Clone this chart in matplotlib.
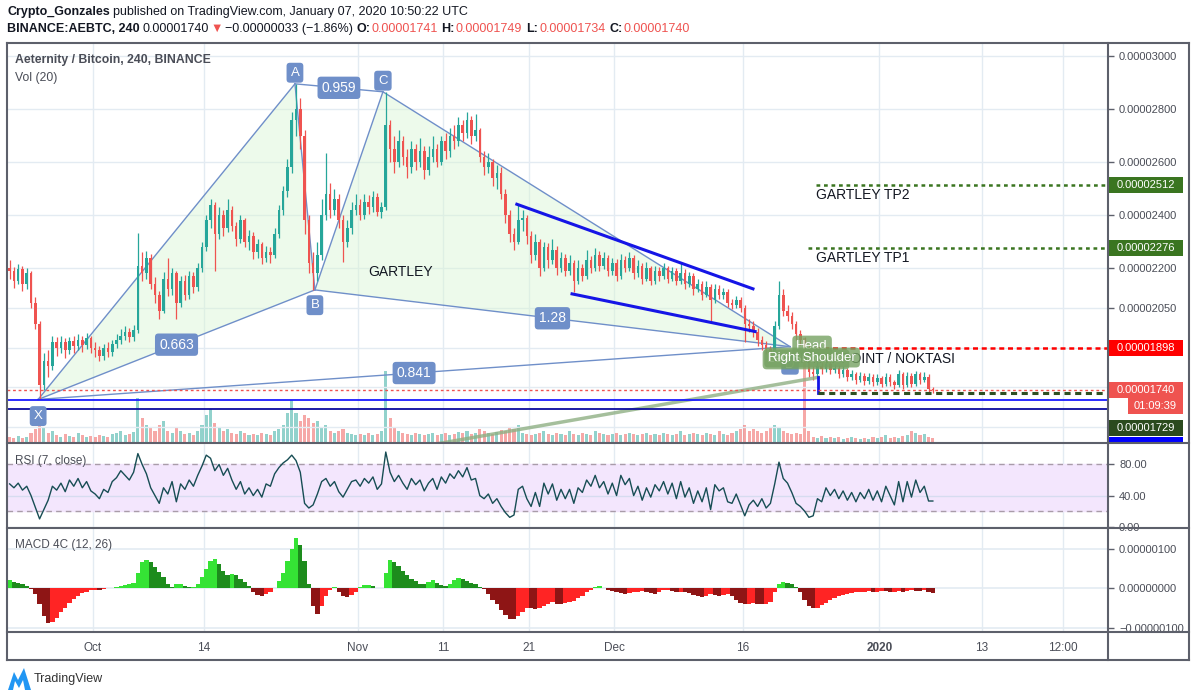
import matplotlib
matplotlib.use("Agg")
import matplotlib.pyplot as plt
import matplotlib.dates as mdates
import matplotlib.transforms as mtrans
from matplotlib.lines import Line2D
from matplotlib.patches import Rectangle, Polygon
import numpy as np
import pandas as pd

plt.rcParams['font.family'] = ['Liberation Sans', 'DejaVu Sans']

# ---- price data, satoshi (1e-8 BTC), 12h candles starting 2019-09-21 ----
first_open = 2200
closes = [
    2190, 2150, 2195, 2140, 2180, 2070, 1990, 1760, 1850, 1830,
    1920, 1900, 1920, 1890, 1925, 1905, 1930, 1910, 1935, 1900,
    1890, 1870, 1900, 1885, 1915, 1930, 1945, 1960, 1940, 1965,
    2210, 2180, 2240, 2140, 2100, 2040, 2160, 2120, 2180, 2070,
    2150, 2100, 2170, 2130, 2200, 2280, 2380, 2440, 2330, 2400,
    2350, 2420, 2360, 2310, 2380, 2300, 2320, 2260, 2290, 2240,
    2260, 2250, 2330, 2420, 2490, 2580, 2760, 2800, 2700, 2380,
    2220, 2180, 2250, 2400, 2480, 2420, 2460, 2380, 2300, 2350,
    2420, 2440, 2400, 2450, 2430, 2470, 2410, 2430, 2740, 2650,
    2600, 2680, 2620, 2580, 2650, 2600, 2640, 2570, 2620, 2650,
    2600, 2680, 2640, 2700, 2680, 2740, 2710, 2760, 2700, 2720,
    2620, 2580, 2600, 2540, 2560, 2480, 2400, 2330, 2300, 2380,
    2390, 2320, 2250, 2300, 2200, 2280, 2230, 2270, 2200, 2240,
    2190, 2220, 2150, 2200, 2170, 2230, 2200, 2250, 2210, 2240,
    2190, 2220, 2170, 2230, 2200, 2240, 2180, 2210, 2160, 2200,
    2150, 2190, 2170, 2200, 2160, 2190, 2150, 2180, 2140, 2170,
    2120, 2140, 2100, 2130, 2080, 2120, 2100, 2110, 2070, 2060,
    2080, 2050, 1990, 1980, 1960, 1930, 1910, 1895, 1880, 1980,
    2100, 2040, 2020, 1990, 1950, 1930, 1900, 1810, 1800, 1830,
    1820, 1840, 1815, 1825, 1800, 1815, 1790, 1800, 1780, 1795,
    1775, 1790, 1770, 1785, 1765, 1790, 1770, 1760, 1800, 1760,
    1795, 1765, 1800, 1780, 1790, 1745, 1740]
highs = [
    2230, 2205, 2215, 2210, 2200, 2190, 2090, 2000, 1880, 1890,
    1946, 1940, 1945, 1935, 1940, 1945, 1950, 1945, 1955, 1945,
    1920, 1905, 1915, 1920, 1930, 1950, 1970, 1980, 1975, 1985,
    2332, 2260, 2265, 2255, 2165, 2115, 2185, 2240, 2200, 2190,
    2170, 2175, 2190, 2185, 2220, 2300, 2400, 2460, 2450, 2430,
    2420, 2460, 2435, 2375, 2400, 2390, 2345, 2335, 2310, 2300,
    2285, 2280, 2350, 2440, 2510, 2610, 2790, 2895, 2840, 2720,
    2400, 2260, 2300, 2460, 2636, 2520, 2500, 2480, 2400, 2380,
    2450, 2480, 2460, 2480, 2475, 2490, 2485, 2450, 2865, 2760,
    2700, 2720, 2700, 2650, 2680, 2670, 2690, 2660, 2660, 2700,
    2670, 2700, 2710, 2730, 2740, 2770, 2760, 2790, 2775, 2780,
    2730, 2640, 2636, 2610, 2590, 2580, 2500, 2420, 2350, 2440,
    2420, 2400, 2340, 2330, 2310, 2300, 2295, 2310, 2285, 2260,
    2255, 2250, 2230, 2230, 2215, 2270, 2245, 2275, 2265, 2260,
    2250, 2240, 2235, 2255, 2245, 2260, 2250, 2230, 2220, 2225,
    2210, 2210, 2205, 2220, 2210, 2205, 2200, 2225, 2195, 2185,
    2180, 2160, 2150, 2150, 2140, 2140, 2135, 2125, 2120, 2085,
    2095, 2090, 2060, 2010, 2000, 1975, 1945, 1925, 1905, 2000,
    2150, 2120, 2060, 2035, 2000, 1965, 1940, 1910, 1830, 1850,
    1845, 1855, 1850, 1840, 1835, 1830, 1825, 1815, 1810, 1810,
    1805, 1805, 1800, 1800, 1795, 1805, 1800, 1780, 1815, 1810,
    1810, 1805, 1812, 1810, 1810, 1800, 1750]
lows = [
    2160, 2125, 2140, 2115, 2120, 2050, 1970, 1705, 1740, 1790,
    1815, 1870, 1880, 1860, 1875, 1880, 1890, 1885, 1895, 1880,
    1865, 1850, 1855, 1865, 1870, 1900, 1915, 1930, 1920, 1925,
    1955, 2150, 2160, 2120, 2070, 2010, 2030, 2095, 2100, 2010,
    2055, 2080, 2085, 2105, 2115, 2185, 2265, 2350, 2190, 2310,
    2320, 2335, 2340, 2285, 2295, 2280, 2270, 2235, 2240, 2215,
    2225, 2220, 2240, 2315, 2400, 2470, 2560, 2700, 2650, 2330,
    2180, 2118, 2150, 2230, 2380, 2390, 2400, 2350, 2223, 2280,
    2330, 2400, 2380, 2385, 2405, 2410, 2395, 2390, 2420, 2600,
    2560, 2580, 2590, 2540, 2560, 2570, 2580, 2535, 2550, 2600,
    2580, 2590, 2610, 2620, 2650, 2660, 2680, 2690, 2670, 2680,
    2600, 2550, 2560, 2510, 2500, 2460, 2370, 2300, 2270, 2290,
    2340, 2290, 2220, 2230, 2170, 2190, 2200, 2215, 2175, 2185,
    2170, 2175, 2110, 2140, 2150, 2160, 2180, 2190, 2190, 2195,
    2170, 2175, 2150, 2160, 2185, 2190, 2160, 2165, 2140, 2150,
    2135, 2140, 2150, 2160, 2145, 2150, 2135, 2140, 2120, 2130,
    2100, 2110, 2080, 2090, 2000, 2070, 2085, 2085, 2055, 2045,
    2050, 2035, 1920, 1960, 1940, 1905, 1890, 1875, 1860, 1870,
    1970, 2020, 2000, 1970, 1930, 1910, 1880, 1790, 1780, 1790,
    1800, 1810, 1800, 1805, 1785, 1790, 1775, 1780, 1765, 1770,
    1760, 1765, 1755, 1760, 1750, 1755, 1755, 1745, 1750, 1745,
    1750, 1750, 1755, 1765, 1770, 1725, 1730]
volume = [
    6, 5, 7, 5, 6, 10, 14, 25, 15, 10,
    12, 8, 6, 9, 7, 6, 10, 8, 6, 7,
    6, 8, 7, 6, 9, 10, 12, 8, 9, 11,
    45, 25, 18, 15, 12, 18, 22, 12, 10, 16,
    12, 9, 10, 8, 12, 18, 28, 34, 20, 15,
    12, 14, 10, 9, 12, 10, 8, 9, 8, 10,
    9, 8, 12, 14, 18, 30, 43, 30, 22, 28,
    25, 20, 22, 15, 18, 12, 10, 12, 14, 10,
    9, 8, 9, 8, 10, 8, 9, 12, 72, 25,
    15, 12, 10, 9, 8, 10, 9, 8, 9, 10,
    8, 9, 10, 8, 9, 11, 10, 12, 9, 10,
    14, 12, 10, 9, 11, 13, 12, 15, 14, 18,
    10, 9, 8, 9, 10, 12, 9, 8, 10, 9,
    8, 12, 9, 8, 10, 9, 8, 12, 10, 9,
    8, 9, 10, 8, 9, 10, 9, 8, 9, 10,
    8, 9, 8, 10, 9, 8, 9, 12, 8, 9,
    10, 9, 8, 10, 9, 8, 12, 9, 8, 10,
    12, 14, 18, 12, 14, 12, 10, 12, 16, 18,
    15, 12, 10, 9, 10, 9, 105, 12, 6, 5,
    7, 5, 6, 5, 6, 4, 5, 6, 5, 4,
    5, 4, 6, 5, 6, 8, 5, 6, 5, 7,
    8, 12, 10, 8, 9, 6, 5]
rsi = [
    55, 50, 56, 47, 52, 40, 25, 10, 22, 34,
    52, 47, 56, 45, 60, 52, 62, 50, 58, 46,
    42, 36, 48, 44, 58, 63, 72, 66, 60, 70,
    94, 80, 68, 50, 40, 30, 50, 42, 58, 32,
    55, 48, 60, 52, 66, 78, 92, 88, 72, 80,
    66, 75, 60, 48, 58, 42, 50, 40, 48, 38,
    55, 52, 68, 76, 82, 86, 92, 85, 70, 30,
    24, 28, 42, 58, 62, 52, 58, 45, 38, 48,
    58, 60, 52, 62, 56, 64, 48, 55, 96, 70,
    58, 66, 56, 48, 62, 54, 60, 46, 56, 62,
    48, 64, 56, 68, 62, 72, 64, 76, 60, 62,
    40, 36, 42, 30, 36, 26, 18, 12, 15, 48,
    52, 36, 26, 44, 26, 56, 42, 55, 34, 48,
    36, 48, 30, 50, 44, 60, 52, 66, 50, 58,
    42, 56, 40, 66, 54, 62, 40, 52, 34, 50,
    38, 54, 46, 58, 42, 56, 36, 58, 38, 50,
    30, 46, 32, 50, 22, 54, 46, 50, 32, 30,
    42, 28, 14, 28, 34, 26, 36, 24, 30, 55,
    83, 62, 56, 44, 30, 26, 20, 12, 14, 36,
    32, 50, 40, 48, 36, 46, 34, 44, 32, 44,
    36, 48, 34, 46, 32, 52, 40, 28, 58, 32,
    58, 38, 60, 44, 52, 33, 33]
macd_hist = [
    20, 17, 14, 10, 5, -2, -14, -40, -70, -88,
    -85, -75, -60, -48, -36, -26, -18, -12, -8, -5,
    -3, -4, -2, 0, 2, 4, 6, 8, 10, 14,
    40, 66, 72, 66, 55, 42, 28, 12, 4, 10,
    12, 6, 3, 4, 12, 30, 50, 68, 73, 62,
    45, 35, 37, 33, 24, 16, 5, -10, -16, -18,
    -14, -9, 0, 18, 40, 70, 100, 127, 110, 70,
    10, -45, -65, -45, -20, -4, 3, -8, -18, -22,
    -16, -8, 4, 8, 8, 6, 2, 0, 40, 72,
    66, 56, 44, 33, 25, 18, 12, 10, 15, 20,
    14, 8, 6, 10, 20, 27, 24, 18, 14, 10,
    4, -2, -14, -28, -40, -55, -68, -76, -78, -70,
    -58, -48, -50, -52, -50, -44, -38, -35, -38, -40,
    -36, -34, -32, -25, -20, -10, -4, 3, 5, 2,
    -3, -6, -9, -11, -13, -12, -10, -8, -7, -9,
    -12, -14, -10, -5, -4, -7, -9, -8, -9, -12,
    -16, -20, -22, -18, -14, -16, -18, -16, -14, -20,
    -28, -36, -40, -38, -36, -38, -40, -38, -34, -10,
    12, 16, 14, 10, 4, -8, -28, -44, -50, -48,
    -42, -36, -30, -24, -20, -16, -14, -12, -10, -9,
    -8, -7, -9, -8, -6, -7, -9, -8, -6, -8,
    -7, -5, -6, -7, -5, -8, -12]

# ---- drawings on the chart ----
pattern_names = ["X", "A", "B", "C", "D"]
pattern_times = ["2019-09-24 14:00", "2019-10-24 15:00", "2019-10-26 23:00",
                 "2019-11-03 22:00", "2019-12-21 13:00"]
pattern_prices = [1705, 2895, 2118, 2865, 1904]
ratio_legs = [("X", "B"), ("A", "C"), ("X", "D"), ("B", "D")]
ratio_text = ["0.663", "0.959", "0.841", "1.28"]

chan_up_t = ["2019-11-19 14:00", "2019-12-17 05:00"]
chan_up_p = [2441, 2122]
chan_lo_t = ["2019-11-26 01:00", "2019-12-17 11:00"]
chan_lo_p = [2103, 1961]
trend_t = ["2019-11-09 10:00", "2019-12-24 19:00"]
trend_p = [1533, 1788]

tp2, tp1, entry, stop = 2512, 2276, 1898, 1729
last_price = 1740
blue_levels = [1702, 1668]

hs_text = ["Left Shoulder", "Head", "Right Shoulder"]
hs_times = ["2019-12-23 10:00", "2019-12-24 03:00", "2019-12-24 03:00"]
hs_prices = [1856, 1908, 1863]

price_ticks = [3000, 2800, 2600, 2400, 2200, 2050]
price_grid = [3000, 2800, 2600, 2400, 2200, 2050, 1900, 1750, 1600]
time_ticks = ["2019-10-01", "2019-10-14", "2019-11-01", "2019-11-11", "2019-11-21",
              "2019-12-01", "2019-12-16", "2020-01-01", "2020-01-13", "2020-01-22 12:00"]
time_labels = ["Oct", "14", "Nov", "11", "21", "Dec", "16", "2020", "13", "12:00"]


def dn(s):
    return mdates.date2num(pd.Timestamp(s).to_pydatetime())


W, H = 1196, 697
fig = plt.figure(figsize=(W / 100, H / 100), dpi=100)
ident = mtrans.IdentityTransform()


def rect(l, t, r, b):
    return [l / W, 1 - b / H, (r - l) / W, (b - t) / H]


L, R = 7, 1108
axv = fig.add_axes(rect(L, 43, R, 443))
ax = fig.add_axes(rect(L, 43, R, 443))
axr = fig.add_axes(rect(L, 443, R, 528))
axm = fig.add_axes(rect(L, 528, R, 632))
axv.set_zorder(0)
ax.set_zorder(1)
ax.patch.set_visible(False)

oct1 = dn("2019-10-01")
xlim = (oct1 - 86 / 8.548, oct1 + 1015 / 8.548)
for a in (axv, ax, axr, axm):
    a.set_xlim(*xlim)
    for s in a.spines.values():
        s.set_visible(False)
    a.tick_params(axis='x', length=0, labelbottom=False)
axv.set_yticks([])
axv.set_ylim(0, 400)
ax.set_ylim(1540.7, 3049)
axr.set_ylim(-1.7, 107.6)
axm.set_ylim(-109.5, 152)

times = pd.date_range("2019-09-21 06:00", periods=len(closes), freq="12h")
x = mdates.date2num(times.to_pydatetime())
c = np.array(closes, float)
o = np.array([first_open] + closes[:-1], float)
up = c >= o
ccol = np.where(up, "#26a69a", "#ef5350")

grid_c = "#e3ebf2"
tick_x = [dn(t) for t in time_ticks]
for a in (axv, axr, axm):
    for t in tick_x:
        a.axvline(t, color=grid_c, lw=1, zorder=0)
for p in price_grid:
    ax.axhline(p, color=grid_c, lw=1, zorder=0)

# volume
axv.bar(x, volume, width=0.36, color=ccol, alpha=0.5, lw=0, zorder=2)

# gartley pattern
pt = {n: (dn(t), p) for n, t, p in zip(pattern_names, pattern_times, pattern_prices)}
pc = "#6f8fc9"
for tri in (("X", "A", "B"), ("B", "C", "D")):
    ax.add_patch(Polygon([pt[n] for n in tri], closed=True, fc="#d9f5d3", alpha=0.45,
                         ec="none", zorder=1))
for a_, b_ in [("X", "A"), ("A", "B"), ("B", "C"), ("C", "D")] + ratio_legs:
    ax.plot([pt[a_][0], pt[b_][0]], [pt[a_][1], pt[b_][1]], color=pc, lw=1, zorder=2)

# candles
ax.vlines(x, lows, highs, colors=ccol, lw=0.9, zorder=3)
body = np.maximum(np.abs(c - o), 4)
ax.bar(x, body, bottom=np.minimum(o, c), width=0.3, color=ccol, lw=0, zorder=3)

boxkw = dict(boxstyle="round,pad=0.3,rounding_size=0.25", fc=pc, ec="none")
offs = {"X": -12, "A": 8, "B": -11, "C": 8, "D": -13}
for n in pattern_names:
    ax.annotate(n, pt[n], xytext=(0, offs[n]), textcoords="offset points", ha="center",
                va="center", color="white", fontsize=9.5, bbox=boxkw, zorder=6)
for (a_, b_), s in zip(ratio_legs, ratio_text):
    mx = (pt[a_][0] + pt[b_][0]) / 2
    my = (pt[a_][1] + pt[b_][1]) / 2
    ax.text(mx, my, s, ha="center", va="center", color="white", fontsize=10,
            bbox=boxkw, zorder=6)

# channel and lines
ax.plot([dn(t) for t in chan_up_t], chan_up_p, color="#1515e6", lw=2.2, zorder=4)
ax.plot([dn(t) for t in chan_lo_t], chan_lo_p, color="#1515e6", lw=2.2, zorder=4)
ax.plot([dn(t) for t in trend_t], trend_p, color="#8fb084", lw=2.5, alpha=0.8, zorder=4)
ax.plot([dn(trend_t[1])] * 2, [trend_p[1], stop], color="#1515e6", lw=2, zorder=4)

ax.plot([dn("2019-12-24 14:00"), xlim[1]], [tp2] * 2, color="#3a7520", lw=1.8,
        ls=(0, (1.5, 1.5)), zorder=4)
ax.plot([dn("2019-12-23 16:00"), xlim[1]], [tp1] * 2, color="#3a7520", lw=1.8,
        ls=(0, (1.5, 1.5)), zorder=4)
ax.plot([dn("2019-12-24 11:00"), xlim[1]], [entry] * 2, color="#ff0000", lw=1.8,
        ls=(0, (2, 1.5)), zorder=4)
ax.plot([dn("2019-12-24 19:00"), xlim[1]], [stop] * 2, color="#2e4f22", lw=2.2,
        ls=(0, (2, 1.5)), zorder=4)
ax.axhline(last_price, color="#ef5350", lw=1, ls=(0, (2, 2)), zorder=4)
ax.axhline(blue_levels[0], color="#1a1aff", lw=1.3, zorder=4)
ax.axhline(blue_levels[1], color="#0b0b9e", lw=1.3, zorder=4)

ax.text(dn("2019-11-02 04:00"), 2186, "GARTLEY", fontsize=10, color="#131722",
        va="center", ha="left", zorder=5)
ax.text(dn("2019-12-24 14:00"), 2475, "GARTLEY TP2", fontsize=10, color="#131722",
        va="center", ha="left", zorder=5)
ax.text(dn("2019-12-24 14:00"), 2238, "GARTLEY TP1", fontsize=10, color="#131722",
        va="center", ha="left", zorder=5)
ax.text(dn("2020-01-09 20:00"), 1859, "ENTRY POINT / NOKTASI", fontsize=10,
        color="#131722", va="center", ha="right", zorder=5)
for s, t, p in zip(hs_text, hs_times, hs_prices):
    ax.text(dn(t), p, s, ha="center", va="center", fontsize=9.5, color="white",
            zorder=7, bbox=dict(boxstyle="round,pad=0.3,rounding_size=0.3",
                                fc="#76a262", ec="none", alpha=0.8))

# price axis
ax.yaxis.tick_right()
ax.set_yticks(price_ticks)
ax.set_yticklabels([f"{v * 1e-8:.8f}" for v in price_ticks])
ax.tick_params(axis='y', length=4, width=1, color="#5d606b", pad=4, labelsize=8,
               labelcolor="#4a4d57")

# RSI
axr.axhspan(20, 80, color="#f3e6fd", zorder=0)
for lv in (80, 20):
    axr.axhline(lv, color="#a99ca9", lw=1, ls=(0, (4, 3)), zorder=1)
axr.axhline(40, color="#d6dcf0", lw=1, zorder=1)
axr.axhline(0, color=grid_c, lw=1, zorder=1)
axr.plot(x, rsi, color="#174d54", lw=1, zorder=3)
axr.yaxis.tick_right()
axr.set_yticks([80, 40, 0])
axr.set_yticklabels(["80.00", "40.00", "0.00"])
axr.tick_params(axis='y', length=4, width=1, color="#5d606b", pad=4, labelsize=8,
                labelcolor="#4a4d57")

# MACD 4C
h = np.array(macd_hist, float)
prev = np.concatenate([[h[0]], h[:-1]])
mcol = np.where(h >= 0, np.where(h >= prev, "#35e335", "#1d8c1d"),
                np.where(h < prev, "#8e1515", "#ff2424"))
for lv in (100, 0, -100):
    axm.axhline(lv, color=grid_c, lw=1.2, zorder=0)
axm.bar(x, h, width=0.5, color=mcol, lw=0, zorder=2)
axm.yaxis.tick_right()
axm.set_yticks([100, 0, -100])
axm.set_yticklabels(["0.00000100", "0.00000000", "\u22120.00000100"])
axm.tick_params(axis='y', length=4, width=1, color="#5d606b", pad=4, labelsize=8,
                labelcolor="#4a4d57")
axm.set_xticks(tick_x)
axm.set_xticklabels(time_labels)
axm.tick_params(axis='x', length=0, pad=7, labelbottom=True, labelsize=8.5,
                labelcolor="#4a4d57")
axm.get_xticklabels()[7].set_fontweight("bold")

# ---- price tags on the right scale ----
tag_clip = mtrans.TransformedBbox(mtrans.Bbox([[1108, H - 443], [1189, H - 43]]), ident)


def tag(value, text, fc, dy=0, x0=1108, x1=1183):
    yc = ax.transData.transform((xlim[0], value))[1] - dy
    r = Rectangle((x0, yc - 8), x1 - x0, 16, transform=ident, fc=fc, ec="none", zorder=8)
    r.set_clip_box(tag_clip)
    fig.add_artist(r)
    t = fig.text((x0 + x1) / 2, yc, text, transform=ident, ha="center", va="center",
                 color="white", fontsize=8, zorder=9)
    t.set_clip_box(tag_clip)


tag(tp2, "0.00002512", "#3a7520")
tag(tp1, "0.00002276", "#3a7520")
tag(entry, "0.00001898", "#ff0000")
tag(last_price, "0.00001740", "#ef5350")
tag(last_price, "01:09:39", "#ef5350", dy=16, x0=1128)
tag(stop, "0.00001729", "#2b4a1e", dy=35)
tag(blue_levels[1], "", "#0000ff", dy=36)

# ---- frame ----
fc_ = "#5d606b"


def seg(x0, y0, x1, y1, lw=1.5):
    fig.add_artist(Line2D([x0, x1], [H - y0, H - y1], transform=ident, color=fc_, lw=lw,
                          zorder=10))


seg(L, 43, 1189, 43)
seg(L, 660, 1189, 660)
seg(L, 43, L, 660)
seg(1189, 43, 1189, 660)
seg(R, 43, R, 660)
for yy in (443, 528, 632):
    seg(L, yy, 1189, yy)

# ---- texts ----
dark = "#131722"
rend = fig.canvas.get_renderer()


def chain(x0, y, parts, size=9):
    xx = x0
    for s, col, wt, gap in parts:
        t = fig.text(xx, H - y, s, transform=ident, color=col, fontweight=wt,
                     fontsize=size, va="center", ha="left")
        xx += t.get_window_extent(renderer=rend).width + gap


red = "#ef5350"
chain(7, 12, [("Crypto_Gonzales", dark, "bold", 3),
              ("published on TradingView.com, January 07, 2020 10:50:22 UTC", dark, "normal", 0)])
chain(7, 29, [("BINANCE:AEBTC, 240", dark, "bold", 3),
              ("0.00001740", dark, "normal", 1),
              ("\u25bc", red, "normal", 3),
              ("\u22120.00000033 (\u22121.86%)", dark, "normal", 3),
              ("O:", dark, "bold", 1), ("0.00001741", red, "normal", 4),
              ("H:", dark, "bold", 1), ("0.00001749", red, "normal", 4),
              ("L:", dark, "bold", 1), ("0.00001734", red, "normal", 4),
              ("C:", dark, "bold", 1), ("0.00001740", red, "normal", 0)])

gray = "#4a4d57"
fig.text(15, H - 60, "Aeternity / Bitcoin, 240, BINANCE", transform=ident, color=gray,
         fontsize=8.8, fontweight="bold", va="center")
fig.text(15, H - 78, "Vol (20)", transform=ident, color=gray, fontsize=8.8, va="center")
fig.text(15, H - 461, "RSI (7, close)", transform=ident, color=gray, fontsize=8.5,
         va="center")
fig.text(15, H - 545, "MACD 4C (12, 26)", transform=ident, color=gray, fontsize=8.5,
         va="center")

# TradingView logo
fig.add_artist(Polygon([(8, H - 690), (14, H - 672), (18, H - 680), (24, H - 668),
                        (31, H - 690), (25, H - 690), (23, H - 680), (19, H - 688),
                        (15, H - 681), (13, H - 690)],
                       closed=True, transform=ident, fc="#2196f3", ec="none"))
fig.text(34, H - 679, "TradingView", transform=ident, color="#333333", fontsize=9,
         va="center")

fig.savefig("out.png", dpi=100)
